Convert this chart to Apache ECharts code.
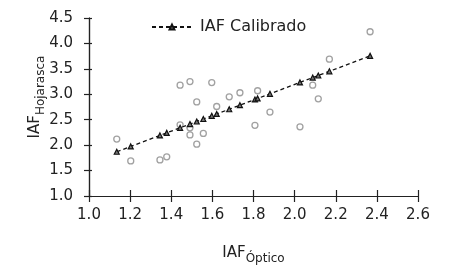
<!DOCTYPE html>
<html>
<head>
<meta charset="utf-8">
<script src="https://cdn.jsdelivr.net/npm/echarts@6/dist/echarts.min.js"></script>
<style>
  html, body { margin: 0; padding: 0; background: #fff; }
  #chart { width: 450px; height: 274px; }
</style>
</head>
<body>
<div id="chart"></div>
<script>
// observed points (IAF optico, IAF hojarasca)
var obsX = [1.135, 1.203, 1.345, 1.378, 1.443, 1.491, 1.597, 1.524, 1.621, 1.443, 1.491, 1.491,
            1.556, 1.524, 1.682, 1.734, 1.820, 1.880, 1.807, 2.026, 2.088, 2.115, 2.367, 2.169];
var obsY = [2.12, 1.69, 1.71, 1.77, 3.18, 3.25, 3.23, 2.85, 2.76, 2.40, 2.34, 2.20,
            2.23, 2.02, 2.95, 3.03, 3.07, 2.65, 2.39, 2.36, 3.18, 2.91, 4.23, 3.69];

// calibrated values
var calX = [1.135, 1.203, 1.345, 1.378, 1.443, 1.491, 1.524, 1.556, 1.597, 1.621,
            1.682, 1.734, 1.807, 1.820, 1.880, 2.026, 2.088, 2.115, 2.169, 2.367];
var calY = [1.870, 1.974, 2.191, 2.241, 2.341, 2.414, 2.465, 2.514, 2.576, 2.613,
            2.706, 2.786, 2.898, 2.918, 3.009, 3.233, 3.328, 3.369, 3.452, 3.755];

var xTicks = [1.0, 1.2, 1.4, 1.6, 1.8, 2.0, 2.2, 2.4, 2.6];
var yTicks = [1.0, 1.5, 2.0, 2.5, 3.0, 3.5, 4.0, 4.5];

var chart = echarts.init(document.getElementById('chart'));
var font = 'DejaVu Sans';
var ink = '#222';

var obsData = obsX.map(function (x, i) { return [x, obsY[i]]; });
var calData = calX.map(function (x, i) { return [x, calY[i]]; });

function fmt(v) { return v.toFixed(1); }

var xBase = {
  type: 'value', min: xTicks[0], max: xTicks[xTicks.length - 1], interval: 0.2,
  axisLine: { lineStyle: { color: ink, width: 1.2 } },
  splitLine: { show: false }
};
var yBase = {
  type: 'value', min: yTicks[0], max: yTicks[yTicks.length - 1], interval: 0.5,
  axisLine: { lineStyle: { color: ink, width: 1.2 } },
  splitLine: { show: false }
};

var option = {
  animation: false,
  backgroundColor: '#fff',
  textStyle: { fontFamily: font },
  grid: { left: 89, right: 32, top: 18, bottom: 78 },
  legend: {
    left: 146, top: 14,
    itemWidth: 40, itemHeight: 6, itemGap: 8,
    textStyle: { fontFamily: font, fontSize: 16, color: ink, padding: [0, 0, 0, 3] },
    data: ['IAF Calibrado']
  },
  xAxis: [
    Object.assign({}, xBase, {
      position: 'bottom',
      axisTick: { inside: false, length: 6, lineStyle: { color: ink, width: 1.2 } },
      axisLabel: { fontFamily: font, fontSize: 15, color: ink, margin: 12, formatter: fmt },
      name: '{m|IAF}{s|Óptico}',
      nameLocation: 'middle', nameGap: 46,
      nameTextStyle: {
        rich: {
          m: { fontFamily: font, fontSize: 15, color: ink },
          s: { fontFamily: font, fontSize: 12, color: ink, padding: [11, 0, 0, 0] }
        }
      }
    }),
    Object.assign({}, xBase, {
      position: 'bottom', offset: 0,
      axisTick: { inside: true, length: 6, lineStyle: { color: ink, width: 1.2 } },
      axisLabel: { show: false }
    })
  ],
  yAxis: [
    Object.assign({}, yBase, {
      position: 'left',
      axisTick: { inside: false, length: 5, lineStyle: { color: ink, width: 1.2 } },
      axisLabel: { fontFamily: font, fontSize: 15, color: ink, margin: 16, formatter: fmt },
      name: '{m|IAF}{s|Hojarasca}',
      nameLocation: 'middle', nameGap: 42, nameRotate: 90,
      nameMoveOverlap: false,
      nameTextStyle: {
        padding: [0, 0, 0, 20],
        rich: {
          m: { fontFamily: font, fontSize: 15, color: ink },
          s: { fontFamily: font, fontSize: 12, color: ink, padding: [11, 0, 0, 0] }
        }
      }
    }),
    Object.assign({}, yBase, {
      position: 'left', offset: 0,
      axisTick: { inside: true, length: 3, lineStyle: { color: ink, width: 1.2 } },
      axisLabel: { show: false }
    })
  ],
  series: [
    {
      name: 'Observado',
      type: 'scatter',
      data: obsData,
      symbol: 'circle',
      symbolSize: 6,
      itemStyle: { color: '#fff', borderColor: '#8a8a8a', borderWidth: 1.3 },
      z: 2
    },
    {
      name: 'IAF Calibrado',
      type: 'line',
      data: calData,
      symbol: 'triangle',
      symbolSize: 5,
      showAllSymbol: true,
      lineStyle: { color: '#111', width: 1.3, type: [4, 3] },
      itemStyle: { color: '#777', borderColor: '#111', borderWidth: 1.2 },
      z: 3
    }
  ]
};

chart.setOption(option);
</script>
</body>
</html>
